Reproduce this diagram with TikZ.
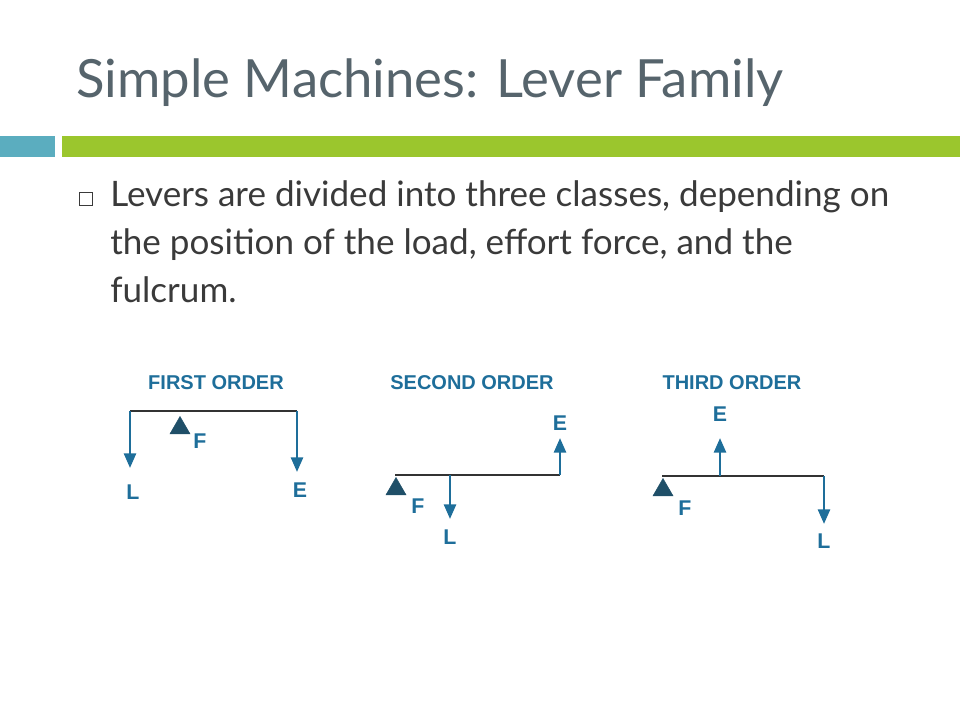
\documentclass[tikz,border=0pt]{standalone}
\usepackage{fontspec}
\setmainfont{Lato}
\newfontfamily\labelfont{Liberation Sans}
\usetikzlibrary{arrows.meta,shapes.geometric}
\definecolor{titlegray}{HTML}{56646C}
\definecolor{bodygray}{HTML}{3A3A3A}
\definecolor{barteal}{HTML}{5BADBF}
\definecolor{bargreen}{HTML}{9BC62D}
\definecolor{leverblue}{HTML}{1E6E9A}
\definecolor{pivotblue}{HTML}{1F4F68}

\begin{document}
\begin{tikzpicture}[
    x=0.75pt, y=-0.75pt,
    beam/.style={draw=black!80, line width=2pt},
    force/.style={leverblue, line width=2pt, -{Triangle[length=11pt, width=9pt]}},
    pivot/.style={isosceles triangle, shape border rotate=90, isosceles triangle apex angle=60, fill=pivotblue, draw=pivotblue, minimum size=13pt, inner sep=0pt, anchor=apex},
    letter/.style={font=\labelfont\bfseries\fontsize{16pt}{16pt}\selectfont, text=leverblue},
    order/.style={font=\labelfont\bfseries\fontsize{15pt}{15pt}\selectfont, text=leverblue},
    bodytext/.style={anchor=base west, text=bodygray, font=\fontsize{26.3pt}{26.3pt}\selectfont, inner sep=0pt},
]
    \useasboundingbox (0,0) rectangle (960,720);
    % title and bars
    \node[anchor=base west, inner sep=0pt, text=titlegray, font=\fontsize{39.5pt}{39.5pt}\selectfont] (title) at (76,98) {Simple Machines: Lever Family};
    \fill[barteal] (0,136) rectangle (55,157);
    \fill[bargreen] (62,136) rectangle (960,157);

    % bullet text
    \draw[bodygray, line width=0.6pt] (79,192) rectangle (92,205);
    \node[bodytext] (line1) at (110,207) {Levers are divided into three classes, depending on};
    \node[bodytext] (line2) at (110,255) {the position of the load, effort force, and the};
    \node[bodytext] (line3) at (110,302) {fulcrum.};

    % first order
    \node[order] (first) at (216,383) {FIRST ORDER};
    \coordinate (f1a) at (130,411);
    \coordinate (f1b) at (297,411);
    \coordinate (f1l) at (130,468);
    \coordinate (f1e) at (297,472);
    \draw[beam] (f1a) -- (f1b);
    \draw[force] (f1a) -- (f1l);
    \draw[force] (f1b) -- (f1e);
    \node[pivot] (piv1) at (180,416) {};
    \node[letter] (F1) at (200,441) {F};
    \node[letter] (L1) at (133,492) {L};
    \node[letter] (E1) at (300,490) {E};

    % second order
    \node[order] (second) at (472,383) {SECOND ORDER};
    \coordinate (f2a) at (395,475);
    \coordinate (f2b) at (560,475);
    \coordinate (f2m) at (450,475);
    \coordinate (f2e) at (560,438);
    \coordinate (f2l) at (450,519);
    \draw[beam] (f2a) -- (f2b);
    \draw[force] (f2b) -- (f2e);
    \draw[force] (f2m) -- (f2l);
    \node[pivot] (piv2) at (396,477) {};
    \node[letter] (F2) at (418,506) {F};
    \node[letter] (L2) at (450,537) {L};
    \node[letter] (E2) at (560,423) {E};

    % third order
    \node[order] (third) at (732,383) {THIRD ORDER};
    \coordinate (f3a) at (662,476);
    \coordinate (f3b) at (824,476);
    \coordinate (f3m) at (720,476);
    \coordinate (f3e) at (720,438);
    \coordinate (f3l) at (824,524);
    \draw[beam] (f3a) -- (f3b);
    \draw[force] (f3m) -- (f3e);
    \draw[force] (f3b) -- (f3l);
    \node[pivot] (piv3) at (663,478) {};
    \node[letter] (F3) at (685,508) {F};
    \node[letter] (L3) at (824,541) {L};
    \node[letter] (E3) at (720,414) {E};
\end{tikzpicture}
\end{document}
